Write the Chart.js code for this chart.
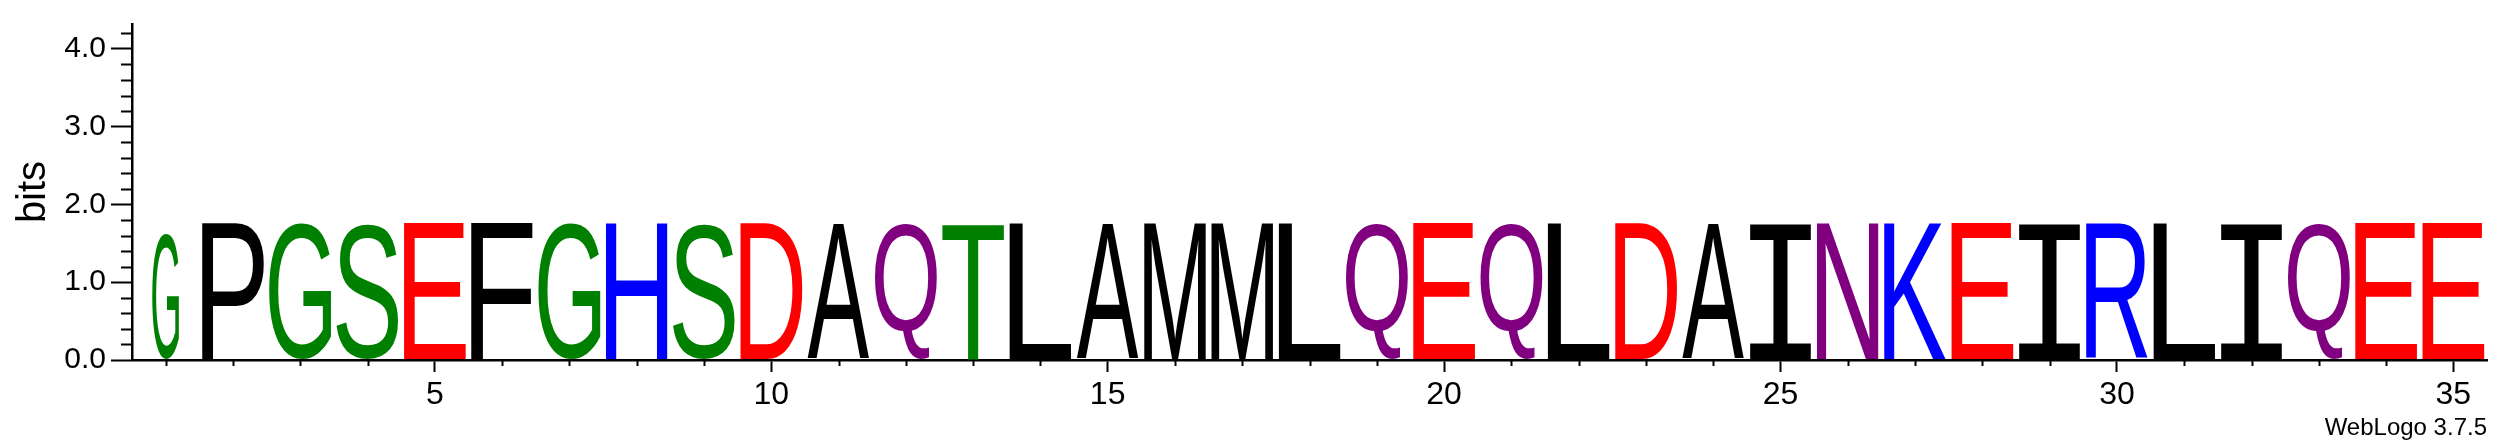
<!DOCTYPE html>
<html>
<head>
<meta charset="utf-8">
<script src="https://cdn.jsdelivr.net/npm/chart.js@4.4.1/dist/chart.umd.min.js"></script>
<style>
  html, body { margin: 0; padding: 0; background: #fff; }
</style>
</head>
<body>
<canvas id="logo" width="2512" height="444"></canvas>
<script>
// sequence positions and the residue shown at each one
const positions = [1, 2, 3, 4, 5, 6, 7, 8, 9, 10, 11, 12, 13, 14, 15, 16, 17, 18,
  19, 20, 21, 22, 23, 24, 25, 26, 27, 28, 29, 30, 31, 32, 33, 34, 35];
const residues = ["G", "P", "G", "S", "E", "F", "G", "H", "S", "D", "A", "Q",
  "T", "L", "A", "M", "M", "L", "Q", "E", "Q", "L", "D", "A", "I", "N", "K",
  "E", "I", "R", "L", "I", "Q", "E", "E"];
// information content (bits) of each stack
const bits = [1.62, 1.76, 1.76, 1.76, 1.76, 1.76, 1.76, 1.76, 1.76, 1.76, 1.76,
  1.76, 1.76, 1.76, 1.76, 1.76, 1.76, 1.76, 1.76, 1.76, 1.76, 1.76, 1.76, 1.76,
  1.76, 1.76, 1.76, 1.76, 1.76, 1.76, 1.76, 1.76, 1.76, 1.76, 1.76];
// fraction of non-gap symbols -> visible stack width
const stackWidths = [0.43, 1, 1, 1, 1, 1, 1, 1, 1, 1, 1, 1, 1, 1, 1, 1, 1, 1,
  1, 1, 1, 1, 1, 1, 1, 1, 1, 1, 1, 1, 1, 1, 1, 1, 1];

const yMajorTicks = [0, 1, 2, 3, 4];
const yMinorTicks = [0.2, 0.4, 0.6, 0.8, 1.2, 1.4, 1.6, 1.8, 2.2, 2.4, 2.6, 2.8,
  3.2, 3.4, 3.6, 3.8, 4.2];
const xTickLabels = [5, 10, 15, 20, 25, 30, 35];

const FONT = "'Liberation Sans', Arial, Helvetica, sans-serif";

// chemistry colour scheme
const residueColors = {
  G: "#008000", S: "#008000", T: "#008000", Y: "#008000", C: "#008000",
  N: "#800080", Q: "#800080",
  K: "#0000ff", R: "#0000ff", H: "#0000ff",
  D: "#ff0000", E: "#ff0000",
};

function colorFor(ch) {
  return residueColors[ch] || "#000000";
}

// stretch a glyph so its ink box fills the given rectangle
function drawGlyph(ctx, ch, x, y, w, h) {
  ctx.save();
  ctx.font = ch === "I" ? "200px 'Liberation Mono', monospace" : "200px " + FONT;
  ctx.textAlign = "left";
  ctx.textBaseline = "alphabetic";
  const m = ctx.measureText(ch);
  const gw = m.actualBoundingBoxLeft + m.actualBoundingBoxRight;
  const gh = m.actualBoundingBoxAscent + m.actualBoundingBoxDescent;
  ctx.translate(x, y);
  ctx.scale(w / gw, h / gh);
  ctx.fillStyle = colorFor(ch);
  ctx.fillText(ch, m.actualBoundingBoxLeft, m.actualBoundingBoxAscent);
  ctx.restore();
}

const letterPlugin = {
  id: "logoLetters",
  afterDatasetsDraw(chart) {
    const ctx = chart.ctx;
    const meta = chart.getDatasetMeta(0);
    meta.data.forEach((bar, i) => {
      const p = bar.getProps(["x", "y", "base", "width"], true);
      const w = p.width * stackWidths[i];
      drawGlyph(ctx, residues[i], p.x - w / 2, p.y, w, p.base - p.y - 1);
    });
  },
};

const extrasPlugin = {
  id: "logoExtras",
  afterDraw(chart) {
    const ctx = chart.ctx;
    const xs = chart.scales.x;
    const ys = chart.scales.y;
    ctx.save();
    ctx.strokeStyle = "#000";
    ctx.lineWidth = 2;
    // minor y ticks
    yMinorTicks.forEach((v) => {
      const py = Math.round(ys.getPixelForValue(v)) + 0.5;
      ctx.beginPath();
      ctx.moveTo(ys.right - 11, py);
      ctx.lineTo(ys.right, py);
      ctx.stroke();
    });
    // minor x ticks
    positions.forEach((v) => {
      if (xTickLabels.includes(v)) return;
      const px = Math.round(xs.getPixelForValue(v)) + 0.5;
      ctx.beginPath();
      ctx.moveTo(px, xs.top);
      ctx.lineTo(px, xs.top + 6);
      ctx.stroke();
    });
    // footer
    ctx.fillStyle = "#000";
    ctx.font = "24px " + FONT;
    ctx.textAlign = "right";
    ctx.textBaseline = "alphabetic";
    ctx.fillText("WebLogo 3.7.5", chart.chartArea.right, chart.chartArea.bottom + 75);
    ctx.restore();
  },
};

document.addEventListener("DOMContentLoaded", function () {
  const ctx = document.getElementById("logo").getContext("2d");
  new Chart(ctx, {
    type: "bar",
    data: {
      datasets: [
        {
          label: "bits",
          data: positions.map((p, i) => ({ x: p, y: bits[i] })),
          backgroundColor: "rgba(0, 0, 0, 0)",
          borderWidth: 0,
          barPercentage: 0.92,
          categoryPercentage: 1,
        },
      ],
    },
    options: {
      responsive: false,
      animation: false,
      devicePixelRatio: 1,
      layout: { padding: { top: 24, right: 25, bottom: 0, left: 0 } },
      plugins: {
        legend: { display: false },
        tooltip: { enabled: false },
      },
      scales: {
        x: {
          type: "linear",
          offset: false,
          min: 0.5,
          max: 35.5,
          afterBuildTicks: (s) => {
            s.ticks = positions.map((v) => ({ value: v }));
          },
          afterFit: (s) => {
            s.height = 84;
          },
          ticks: {
            autoSkip: false,
            maxRotation: 0,
            padding: 4,
            color: "#000",
            font: { family: FONT, size: 32 },
            callback: (v) => (xTickLabels.includes(v) ? String(v) : ""),
          },
          grid: {
            offset: false,
            drawOnChartArea: false,
            tickLength: 12,
            tickWidth: 2,
            tickColor: (c) =>
              c.tick && xTickLabels.includes(c.tick.value) ? "#000" : "rgba(0,0,0,0)",
          },
          border: { color: "#000", width: 2.5 },
        },
        y: {
          min: 0,
          max: 4.32,
          afterBuildTicks: (s) => {
            s.ticks = yMajorTicks.map((v) => ({ value: v }));
          },
          afterFit: (s) => {
            s.width = 132;
          },
          ticks: {
            padding: 5,
            color: "#000",
            font: { family: FONT, size: 30 },
            callback: (v) => v.toFixed(1),
          },
          grid: {
            drawOnChartArea: false,
            tickLength: 21,
            tickWidth: 2,
            tickColor: "#000",
          },
          border: { color: "#000", width: 2.5 },
          title: {
            display: true,
            text: "bits",
            color: "#000",
            font: { family: FONT, size: 40 },
            padding: { top: 10, bottom: 0 },
          },
        },
      },
    },
    plugins: [letterPlugin, extrasPlugin],
  });
});
</script>
</body>
</html>
